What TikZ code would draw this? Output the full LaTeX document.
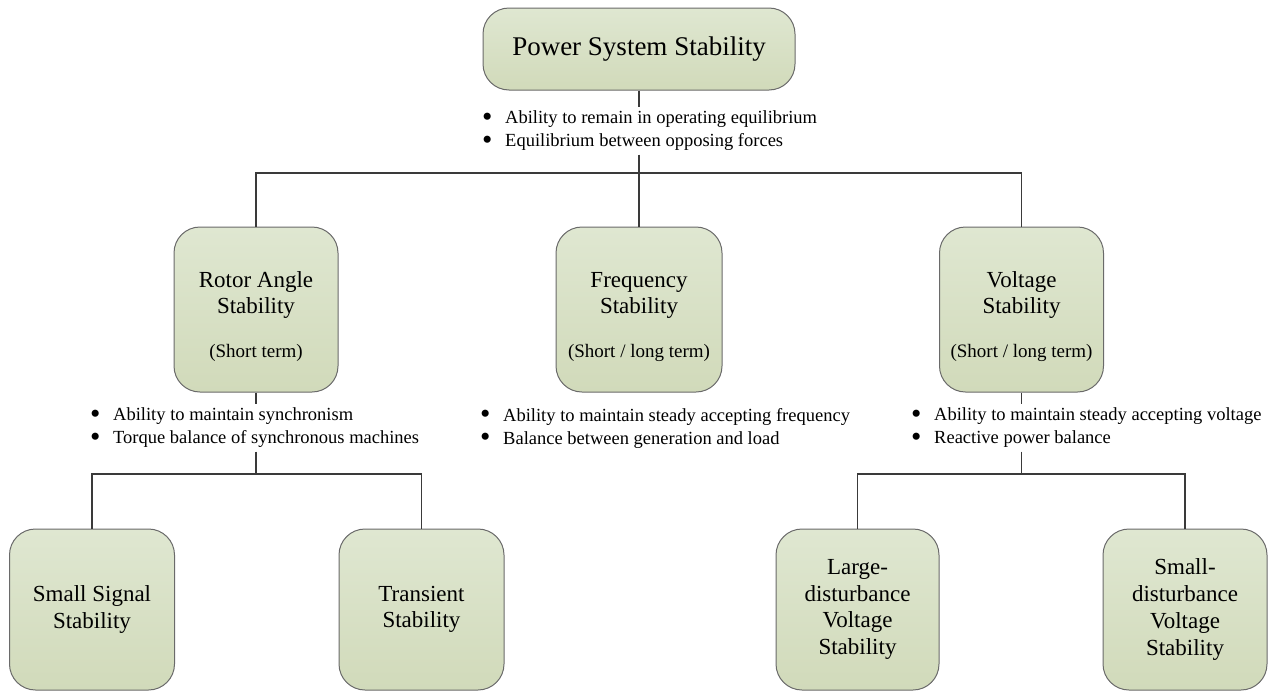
\documentclass[tikz,border=0pt]{standalone}
\usepackage{graphicx}
\usepackage{fontspec}
\setmainfont{Liberation Serif}
\definecolor{boxtop}{HTML}{DFE7D1}
\definecolor{boxbot}{HTML}{D1DABA}
\definecolor{boxline}{HTML}{6A6A6A}
\definecolor{wire}{HTML}{3A3A3A}
\newcommand\bul{\makebox[23pt][l]{\raisebox{-0.12em}{\scalebox{1.6}{\textbullet}}}}
\begin{document}
\begin{tikzpicture}[x=1pt,y=-1pt,
  box/.style={draw=boxline, line width=1pt, rounded corners=26pt,
    top color=boxtop, bottom color=boxbot, inner sep=0pt, align=center,
    font=\fontsize{23}{26.7}\selectfont},
  title/.style={align=center, inner sep=0pt, font=\fontsize{23}{26}\selectfont},
  term/.style={inner sep=0pt, font=\fontsize{19}{22}\selectfont},
  bullets/.style={anchor=west, align=left, inner sep=3.5pt,
    font=\fontsize{18.5}{23}\selectfont},
  wirestyle/.style={draw=wire, line width=1.5pt}]
\useasboundingbox (0,0) rectangle (1282,691);

% top level
\node[box, minimum width=312pt, minimum height=82pt,
  font=\fontsize{27}{32}\selectfont] (pss) at (639,49) {Power System Stability};
\node[bullets] (pssB) at (478.5,131)
  {\bul Ability to remain in operating equilibrium\\
   \bul Equilibrium between opposing forces};

% second level
\node[box, minimum width=164pt, minimum height=165pt] (rotor) at (256,309.5) {};
\node[title] (rotorT) at (256,295) {Rotor Angle\\Stability};
\node[term] (rotorS) at (256,353) {(Short term)};

\node[box, minimum width=166pt, minimum height=165pt] (freq) at (639,309.5) {};
\node[title] (freqT) at (639,295) {Frequency\\Stability};
\node[term] (freqS) at (639,353) {(Short / long term)};

\node[box, minimum width=164pt, minimum height=165pt] (volt) at (1021.5,309.5) {};
\node[title] (voltT) at (1021.5,295) {Voltage\\Stability};
\node[term] (voltS) at (1021.5,353) {(Short / long term)};

\node[bullets] (rotorB) at (86.5,428)
  {\bul Ability to maintain synchronism\\
   \bul Torque balance of synchronous machines};
\node[bullets] (freqB) at (476.5,428)
  {\bul Ability to maintain steady accepting frequency\\
   \bul Balance between generation and load};
\node[bullets] (voltB) at (907.5,428)
  {\bul Ability to maintain steady accepting voltage\\
   \bul Reactive power balance};

% third level
\node[box, minimum width=165pt, minimum height=161pt] (small) at (92,609.5)
  {Small Signal\\Stability};
\node[box, minimum width=165pt, minimum height=161pt] (trans) at (421.5,609.5)
  {Transient\\Stability};
\node[box, minimum width=163pt, minimum height=161pt] (large) at (857.5,609.5)
  {Large-\\disturbance\\Voltage\\Stability};
\node[box, minimum width=164pt, minimum height=161pt] (smalld) at (1185,609.5)
  {Small-\\disturbance\\Voltage\\Stability};

% bus lines
\coordinate (bus1) at (0,173);
\coordinate (bus2) at (0,474);

% connectors
\draw[wirestyle] (pss.south) -- (pss.south |- pssB.north);
\draw[wirestyle] (pss.south |- pssB.south) -- (pss.south |- bus1);
\draw[wirestyle] (rotor.north) -- (rotor.north |- bus1) -- (volt.north |- bus1) -- (volt.north);
\draw[wirestyle] (freq.north) -- (freq.north |- bus1);

\draw[wirestyle] (rotor.south) -- (rotor.south |- rotorB.north);
\draw[wirestyle] (rotor.south |- rotorB.south) -- (rotor.south |- bus2);
\draw[wirestyle] (small.north) -- (small.north |- bus2) -- (trans.north |- bus2) -- (trans.north);

\draw[wirestyle] (volt.south) -- (volt.south |- voltB.north);
\draw[wirestyle] (volt.south |- voltB.south) -- (volt.south |- bus2);
\draw[wirestyle] (large.north) -- (large.north |- bus2) -- (smalld.north |- bus2) -- (smalld.north);
\end{tikzpicture}
\end{document}
